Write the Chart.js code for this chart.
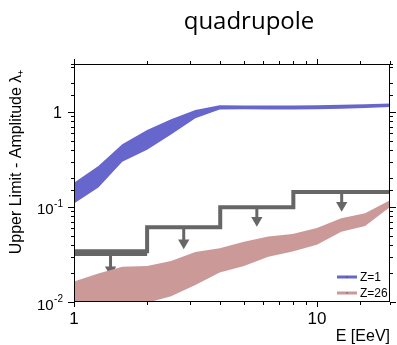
<!DOCTYPE html>
<html>
<head>
<meta charset="utf-8">
<script src="https://cdn.jsdelivr.net/npm/chart.js@4/dist/chart.umd.min.js"></script>
<style>
  html, body { margin: 0; padding: 0; background: #fff; }
  #wrap { width: 397px; height: 345px; }
</style>
</head>
<body>
<div id="wrap"><canvas id="chart"></canvas></div>
<script>
// energy bins (EeV), log spaced
const energies = [1, 1.26, 1.58, 2, 2.51, 3.16, 3.98, 5.01, 6.31, 7.94, 10, 12.6, 15.8, 20];

// expected amplitude band for protons (Z=1)
const protonLow  = [0.109, 0.16, 0.30, 0.40, 0.58, 0.86, 1.06, 1.07, 1.06, 1.06, 1.07, 1.08, 1.10, 1.13];
const protonHigh = [0.18, 0.27, 0.457, 0.645, 0.84, 1.05, 1.18, 1.17, 1.17, 1.17, 1.18, 1.19, 1.21, 1.23];

// expected amplitude band for iron (Z=26)
const ironLow  = [0.008, 0.0085, 0.009, 0.0098, 0.0115, 0.0151, 0.0204, 0.024, 0.030, 0.034, 0.040, 0.055, 0.063, 0.100];
const ironHigh = [0.0164, 0.020, 0.0235, 0.024, 0.027, 0.0335, 0.0367, 0.043, 0.049, 0.052, 0.060, 0.076, 0.086, 0.118];

// measured upper limits, one per energy bin
const binEdges = [1, 2, 4, 8, 20];
const upperLimits = [0.0342, 0.0613, 0.0995, 0.144];
const firstBinLimit2 = 0.0321;
const arrowEnergies = [1.414, 2.83, 5.66, 12.65];
const arrowHeads = [0.0219, 0.042, 0.0726, 0.1045];

const legendLabels = ['Z=1', 'Z=26'];
const blue = '#6666cc';
const rose = '#cc9999';
const grey = '#666666';

const pts = (xs, ys) => xs.map((x, i) => ({ x: x, y: ys[i] }));

const stepData = binEdges.map((e, i) => ({ x: e, y: upperLimits[Math.min(i, upperLimits.length - 1)] }));
const arrowData = [];
arrowEnergies.forEach((e, i) => {
  arrowData.push({ x: e, y: upperLimits[i] }, { x: e, y: arrowHeads[i] }, { x: e, y: null });
});

const isDecade = (v) => Math.abs(Math.log10(v) - Math.round(Math.log10(v))) < 1e-6;
const FONT = '"Liberation Sans", Arial, sans-serif';

// box frame, outward ticks on all sides, y decade labels, titles and legend
const framePlugin = {
  id: 'frame',
  afterDraw(chart) {
    const { ctx, chartArea: a, scales: { x, y } } = chart;
    ctx.save();
    ctx.strokeStyle = '#000';
    ctx.lineWidth = 1;
    ctx.strokeRect(a.left + 0.5, a.top + 0.5, a.right - a.left - 1, a.bottom - a.top - 1);

    ctx.beginPath();
    x.ticks.forEach(t => {
      if (t.value < x.min || t.value > x.max) return;
      const px = Math.round(x.getPixelForValue(t.value)) + 0.5;
      const len = isDecade(t.value) ? 5 : 3;
      ctx.moveTo(px, a.bottom); ctx.lineTo(px, a.bottom + len);
      ctx.moveTo(px, a.top); ctx.lineTo(px, a.top - len);
    });
    y.ticks.forEach(t => {
      if (t.value < y.min || t.value > y.max) return;
      const py = Math.round(y.getPixelForValue(t.value)) + 0.5;
      const len = isDecade(t.value) ? 6 : 3;
      ctx.moveTo(a.left, py); ctx.lineTo(a.left - len, py);
      ctx.moveTo(a.right, py); ctx.lineTo(a.right + len, py);
    });
    ctx.stroke();

    // y labels: 1, 10^-1, 10^-2 with raised exponent
    ctx.fillStyle = '#000';
    ctx.textBaseline = 'alphabetic';
    y.ticks.forEach(t => {
      if (!isDecade(t.value) || t.value < y.min) return;
      const py = y.getPixelForValue(t.value);
      const p = Math.round(Math.log10(t.value));
      if (p === 0) {
        ctx.font = '16px ' + FONT;
        ctx.textAlign = 'right';
        ctx.fillText('1', a.left - 12, py + 6);
      } else {
        ctx.font = '10px ' + FONT;
        ctx.textAlign = 'right';
        const exp = String(p);
        ctx.fillText(exp, a.left - 11, py);
        const ew = ctx.measureText(exp).width;
        ctx.font = '15px ' + FONT;
        ctx.fillText('10', a.left - 11.5 - ew, py + 7.5);
      }
    });

    ctx.font = '24px "Open Sans"';
    ctx.textAlign = 'center';
    ctx.fillText('quadrupole', 249, 29);

    ctx.font = '16px ' + FONT;
    ctx.textAlign = 'right';
    ctx.fillText('E [EeV]', a.right, 341);

    ctx.save();
    ctx.translate(17, 162);
    ctx.rotate(-Math.PI / 2);
    ctx.textAlign = 'center';
    ctx.textBaseline = 'middle';
    ctx.fillText('Upper Limit - Amplitude λ₊', 0, 0);
    ctx.restore();

    // legend
    const colors = [blue, rose];
    const rows = [277, 293];
    ctx.font = '12px ' + FONT;
    ctx.textAlign = 'left';
    ctx.textBaseline = 'middle';
    legendLabels.forEach((lbl, i) => {
      ctx.fillStyle = colors[i];
      ctx.fillRect(337, rows[i] - 1.5, 20, 3);
      ctx.fillStyle = '#333';
      ctx.fillRect(346.5, rows[i] - 0.5, 1, 1);
      ctx.fillStyle = '#000';
      ctx.fillText(lbl, 360, rows[i] + 1);
    });
    ctx.restore();
  }
};

Chart.defaults.font.family = FONT;
Chart.defaults.color = '#000';

new Chart(document.getElementById('chart'), {
  type: 'line',
  data: {
    datasets: [
      { data: pts(energies, protonLow), borderWidth: 0, pointRadius: 0, fill: false },
      { data: pts(energies, protonHigh), borderWidth: 0, pointRadius: 0, fill: '-1', backgroundColor: blue },
      { data: pts(energies, ironLow), borderWidth: 0, pointRadius: 0, fill: false },
      { data: pts(energies, ironHigh), borderWidth: 0, pointRadius: 0, fill: '-1', backgroundColor: rose },
      { data: [{ x: binEdges[0], y: firstBinLimit2 }, { x: binEdges[1], y: firstBinLimit2 }],
        borderColor: grey, borderWidth: 4, pointRadius: 0, fill: false },
      { data: stepData, stepped: 'before', borderColor: grey, borderWidth: 4, pointRadius: 0, fill: false },
      {
        data: arrowData, borderColor: grey, backgroundColor: grey, borderWidth: 3, fill: false, spanGaps: false,
        pointStyle: 'triangle', rotation: 180, pointBorderWidth: 0,
        pointRadius: (c) => (c.dataIndex % 3 === 1 ? 6.5 : 0)
      }
    ]
  },
  options: {
    responsive: true,
    maintainAspectRatio: false,
    animation: false,
    layout: { padding: { top: 64, right: 3, left: 0, bottom: 0 } },
    plugins: { legend: { display: false }, tooltip: { enabled: false }, title: { display: false } },
    elements: { line: { tension: 0 } },
    scales: {
      x: {
        type: 'logarithmic', min: 1, max: 20,
        grid: { display: false, drawTicks: false },
        border: { display: false },
        ticks: {
          autoSkip: false, maxRotation: 0, padding: 7,
          font: { size: 17 },
          callback: (v) => (isDecade(v) ? String(Math.round(v)) : '')
        },
        afterFit: (s) => { s.height = 43; }
      },
      y: {
        type: 'logarithmic', min: 0.01, max: 3.2,
        grid: { display: false, drawTicks: false },
        border: { display: false },
        ticks: { display: false, autoSkip: false },
        afterFit: (s) => { s.width = 74; }
      }
    }
  },
  plugins: [framePlugin]
});
</script>
</body>
</html>
